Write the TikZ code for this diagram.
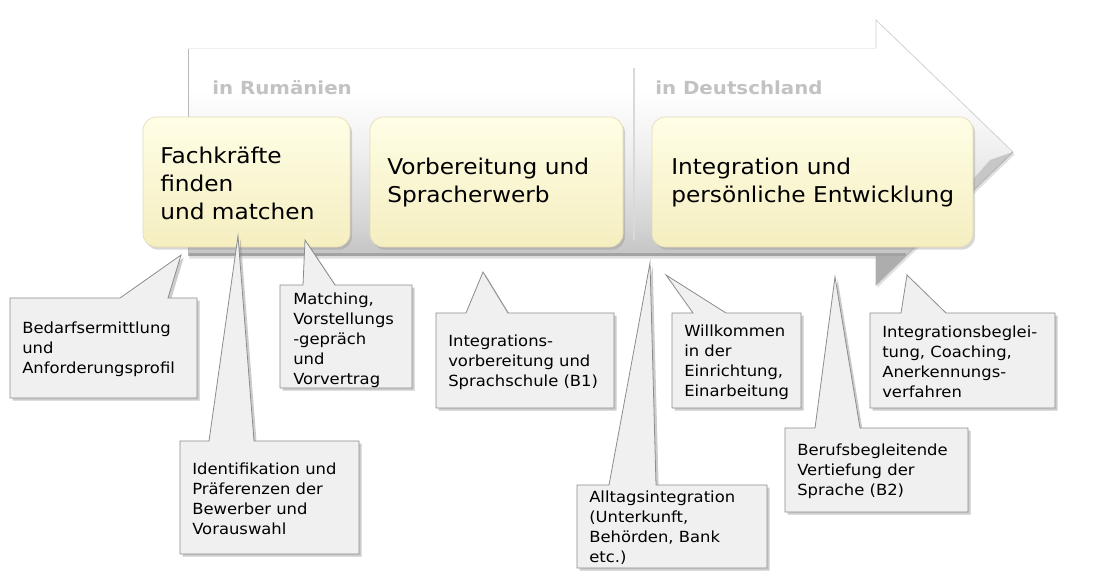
\documentclass[tikz,border=0pt]{standalone}
\usepackage{fontspec}
\setmainfont{DejaVu Sans}[FakeStretch=1.07]
\newfontfamily\hdrfont{DejaVu Sans}[FakeStretch=1.1]
\usetikzlibrary{shadows}
\definecolor{callfill}{HTML}{F0F0F0}
\definecolor{callline}{HTML}{8C8C8C}
\definecolor{boxtop}{HTML}{FFFEE6}
\definecolor{boxbot}{HTML}{F5EEC0}
\definecolor{boxline}{HTML}{E4DBB4}
\definecolor{hdr}{HTML}{C2C2C2}
\pgfdeclareverticalshading{arrowshade}{100bp}{color(0bp)=(black!24); color(25bp)=(black!24); color(31.6bp)=(black!22); color(37.3bp)=(black!16); color(50.5bp)=(black!6); color(61.8bp)=(white); color(100bp)=(white)}
\begin{document}
\begin{tikzpicture}[x=0.75pt,y=-0.75pt,
  mainbox/.style={rounded corners=10pt, draw=boxline, line width=0.5pt,
    top color=boxtop, bottom color=boxbot,
    drop shadow={shadow xshift=1.5pt, shadow yshift=-2pt, fill=black!45, opacity=0.35},
    inner sep=0pt},
  maintext/.style={anchor=west, align=left, inner sep=0pt,
    font=\fontsize{16.3}{21}\selectfont},
  callshape/.style={fill=callfill, draw=callline, line width=0.6pt,
    drop shadow={shadow xshift=2pt, shadow yshift=-2pt, fill=black!50, opacity=0.4}},
  calltext/.style={anchor=west, align=left, inner sep=0pt,
    font=\fontsize{11.5}{15}\selectfont},
  hdrtext/.style={anchor=west, inner sep=0pt, text=hdr,
    font=\hdrfont\fontsize{13.5}{15}\selectfont\bfseries}
]
\useasboundingbox (0,0) rectangle (1102,578);

% big arrow
\shade[shading=arrowshade,
  drop shadow={shadow xshift=1pt, shadow yshift=-2pt, fill=black!40, opacity=0.3}]
  (188,48) -- (876,48) -- (876,20) -- (1013,152) -- (876,285) -- (876,256) -- (188,256) -- cycle;
\fill[black!32] (876,256) -- (876,285) -- (906,256) -- cycle;
\fill[black!22] (1013,152) -- (876,285) -- (906,256) -- (990,160) -- cycle;
\draw[black!36, line width=2.4pt] (188,254.5) -- (906,254.5);
\draw[black!28, line width=0.7pt] (188,48) -- (188,256);
\draw[black!6, line width=0.6pt] (188,48) -- (876,48);
\draw[black!18, line width=0.6pt] (876,48) -- (876,20) -- (1013,152);
\draw[black!30, line width=0.6pt] (1013,152) -- (876,285) -- (876,256);
\draw[black!15, line width=0.8pt] (634,68) -- (634,240);

\node[hdrtext] (hr) at (212,88) {in Rumänien};
\node[hdrtext] (hd) at (655,88) {in Deutschland};

% main boxes
\node[mainbox, minimum width=155.25pt, minimum height=97.5pt] (b1) at (246.5,182) {};
\node[mainbox, minimum width=189.75pt, minimum height=97.5pt] (b2) at (496.5,182) {};
\node[mainbox, minimum width=240.75pt, minimum height=97.5pt] (b3) at (812.5,182) {};
\node[maintext] (t1) at (160,183) {Fachkräfte\\finden\\und matchen};
\node[maintext] (t2) at (387,183) {Vorbereitung und\\Spracherwerb};
\node[maintext] (t3) at (671,183) {Integration und\\persönliche Entwicklung};

% callouts
\coordinate (p1) at (181,255);
\coordinate (p2) at (238,236);
\coordinate (p3) at (305,240);
\coordinate (p4) at (483,272);
\coordinate (p5) at (650,263);
\coordinate (p6) at (666,275);
\coordinate (p7) at (835,277);
\coordinate (p8) at (907,275);

\path[callshape] (10,298) -- (120,298) -- (p1) -- (168,298) -- (197,298) -- (197,398) -- (10,398) -- cycle;
\node[calltext] (c1) at (22,349) {Bedarfsermittlung\\und\\Anforderungsprofil};

\path[callshape] (180,441) -- (209,441) -- (p2) -- (254,441) -- (359,441) -- (359,554) -- (180,554) -- cycle;
\node[calltext] (c2) at (192,499) {Identifikation und\\Präferenzen der\\Bewerber und\\Vorauswahl};

\path[callshape] (280,285) -- (303,285) -- (p3) -- (335,285) -- (412,285) -- (412,388) -- (280,388) -- cycle;
\node[calltext] (c3) at (293,340) {Matching,\\Vorstellungs\\-gepräch\\und\\Vorvertrag};

\path[callshape] (436,313) -- (466,313) -- (p4) -- (508,313) -- (614,313) -- (614,408) -- (436,408) -- cycle;
\node[calltext] (c4) at (448,362) {Integrations-\\vorbereitung und\\Sprachschule (B1)};

\path[callshape] (577,485) -- (609,485) -- (p5) -- (656,485) -- (767,485) -- (767,568) -- (577,568) -- cycle;
\node[calltext] (c5) at (589,528) {Alltagsintegration\\(Unterkunft,\\Behörden, Bank\\etc.)};

\path[callshape] (672,313) -- (693,313) -- (p6) -- (726,313) -- (801,313) -- (801,408) -- (672,408) -- cycle;
\node[calltext] (c6) at (684,362) {Willkommen\\in der\\Einrichtung,\\Einarbeitung};

\path[callshape] (785,428) -- (815,428) -- (p7) -- (860,428) -- (968,428) -- (968,512) -- (785,512) -- cycle;
\node[calltext] (c7) at (797,471) {Berufsbegleitende\\Vertiefung der\\Sprache (B2)};

\path[callshape] (870,313) -- (901,313) -- (p8) -- (946,313) -- (1055,313) -- (1055,408) -- (870,408) -- cycle;
\node[calltext] (c8) at (882,362) {Integrationsbeglei-\\tung, Coaching,\\Anerkennungs-\\verfahren};
\end{tikzpicture}
\end{document}
